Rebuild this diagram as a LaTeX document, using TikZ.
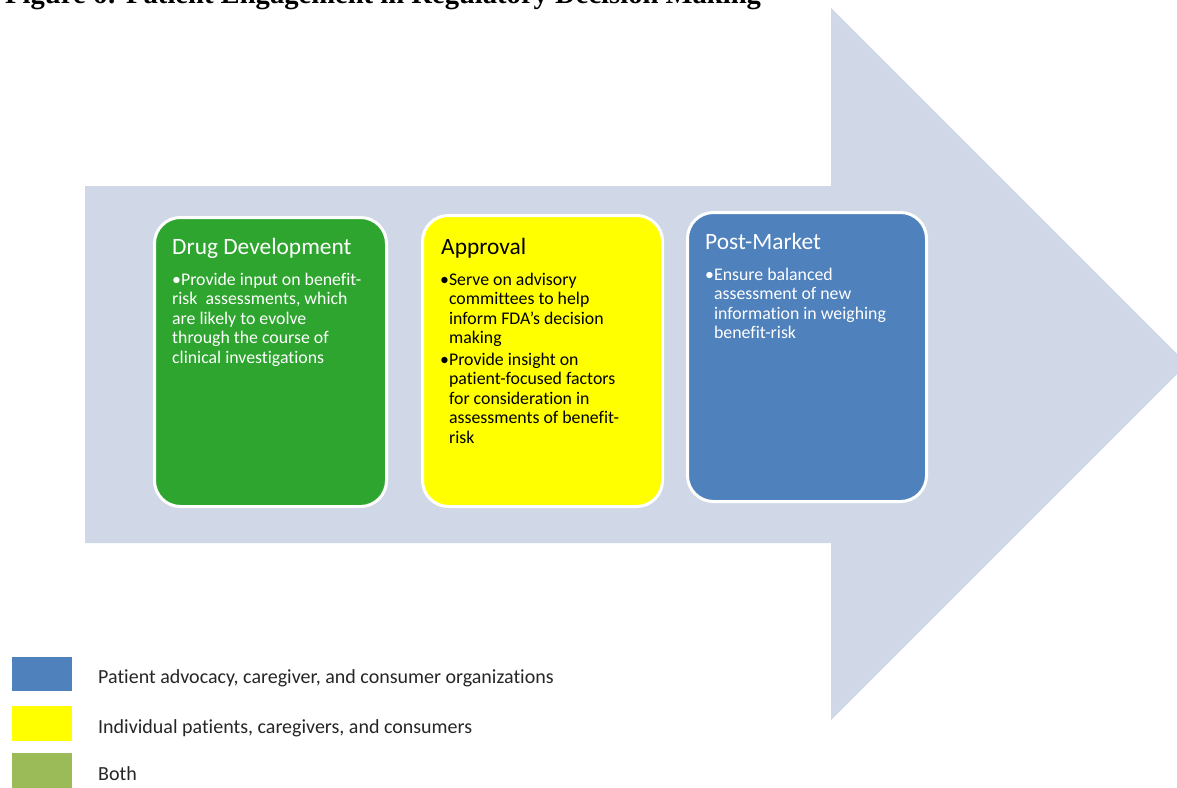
\documentclass[tikz,border=0pt]{standalone}
\usepackage{fontspec}
\setmainfont{Carlito}[RawFeature={-liga;-clig;-calt;-dlig}]
\newfontfamily\titlefont{Liberation Serif}
\definecolor{shaft}{HTML}{D0D8E8}
\definecolor{ddgreen}{HTML}{2DA52E}
\definecolor{apyellow}{HTML}{FFFF00}
\definecolor{pmblue}{HTML}{4F81BD}
\definecolor{lggreen}{HTML}{9BBB59}
\definecolor{lgtext}{HTML}{262626}
\tikzset{
  stagebox/.style={draw=white, line width=3pt, rounded corners=26pt, anchor=north west, inner sep=0pt},
  stagetitle/.style={anchor=base west, inner sep=0pt, font=\fontsize{23.4}{28}\selectfont},
  stagebody/.style={anchor=base west, inner sep=0pt, align=left, font=\fontsize{17.8}{19.6}\selectfont},
  legendbox/.style={anchor=north west, inner sep=0pt, minimum width=60pt},
  legendtext/.style={anchor=base west, inner sep=0pt, text=lgtext, font=\fontsize{20}{24}\selectfont}
}
\newcommand{\bul}{\textbullet}
\newcommand{\hang}{\phantom{\textbullet}}
\begin{document}
\begin{tikzpicture}[x=1pt,y=-1pt]
\useasboundingbox (0,0) rectangle (1177,787);
\fill[white] (0,0) rectangle (1177,787);
% title (cut by the page edge, as in the reference)
\node[anchor=base west, inner sep=0pt, font=\titlefont\bfseries\fontsize{28.6}{32}\selectfont] (title) at (5,4) {Figure 6: Patient Engagement in Regulatory Decision Making};
% big arrow
\fill[shaft] (85,186) -- (831,186) -- (831,8) -- (1187,364) -- (831,720) -- (831,543) -- (85,543) -- cycle;
% stage boxes
\node[stagebox, fill=ddgreen, minimum width=232pt, minimum height=289pt] (dd) at (153,216) {};
\node[stagebox, fill=apyellow, minimum width=240pt, minimum height=291pt] (ap) at (421,214) {};
\node[stagebox, fill=pmblue, minimum width=239pt, minimum height=289pt] (pm) at (686,211) {};
% texts (multi-line nodes are placed by the baseline of their last line)
\node[stagetitle, text=white] (ddt) at (172,254) {Drug Development};
\node[stagebody, text=white] (ddb) at (172,363.4) {\bul Provide input on benefit-\\risk\ \ assessments, which\\are likely to evolve\\through the course of\\clinical investigations};
\node[stagetitle, text=black] (apt) at (441,254) {Approval};
\node[stagebody, text=black] (apb1) at (440,343.8) {\bul Serve on advisory\\\hang committees to help\\\hang inform FDA’s decision\\\hang making};
\node[stagebody, text=black] (apb2) at (440,443.4) {\bul Provide insight on\\\hang patient-focused factors\\\hang for consideration in\\\hang assessments of benefit-\\\hang risk};
\node[stagetitle, text=white] (pmt) at (705,249) {Post-Market};
\node[stagebody, text=white] (pmb) at (705,338.8) {\bul Ensure balanced\\\hang assessment of new\\\hang information in weighing\\\hang benefit-risk};
% legend
\node[legendbox, fill=pmblue, minimum height=34pt] (lg1) at (12,657) {};
\node[legendbox, fill=apyellow, minimum height=35pt] (lg2) at (12,706) {};
\node[legendbox, fill=lggreen, minimum height=36pt] (lg3) at (12,753) {};
\node[legendtext] (lt1) at (98,683) {Patient advocacy, caregiver, and consumer organizations};
\node[legendtext] (lt2) at (98,733) {Individual patients, caregivers, and consumers};
\node[legendtext] (lt3) at (98,780) {Both};
\end{tikzpicture}
\end{document}
